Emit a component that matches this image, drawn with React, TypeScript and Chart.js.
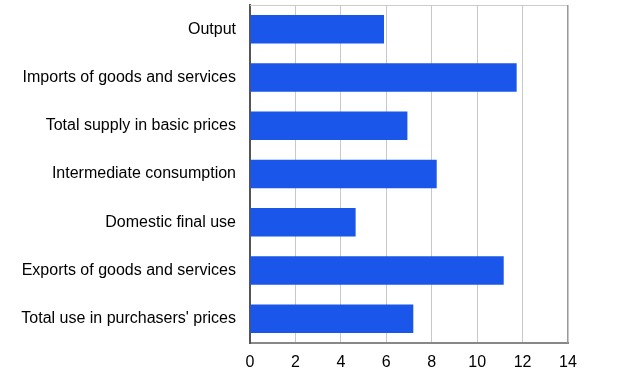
import React, { useEffect, useRef } from "react";
import { Chart, registerables } from "chart.js";

Chart.register(...registerables);

const categories = [
  "Output",
  "Imports of goods and services",
  "Total supply in basic prices",
  "Intermediate consumption",
  "Domestic final use",
  "Exports of goods and services",
  "Total use in purchasers' prices",
];
const values = [5.9, 11.74, 6.93, 8.22, 4.65, 11.17, 7.19];
const xTicks = [0, 2, 4, 6, 8, 10, 12, 14];

const FONT = "'Liberation Sans', Arial, sans-serif";

const topBorder = {
  id: "topBorder",
  afterDraw(chart: any) {
    const { ctx, chartArea } = chart;
    ctx.save();
    ctx.strokeStyle = "#cccccc";
    ctx.lineWidth = 1;
    ctx.beginPath();
    ctx.moveTo(chartArea.left, chartArea.top + 0.5);
    ctx.lineTo(chartArea.right, chartArea.top + 0.5);
    ctx.stroke();
    ctx.strokeStyle = "#999999";
    ctx.beginPath();
    ctx.moveTo(chartArea.right - 0.5, chartArea.top);
    ctx.lineTo(chartArea.right - 0.5, chartArea.bottom);
    ctx.stroke();
    ctx.restore();
  },
};

export default function App() {
  const ref = useRef<HTMLCanvasElement>(null);
  useEffect(() => {
    document.body.style.margin = "0";
    const chart = new Chart(ref.current!, {
      type: "bar",
      data: {
        labels: categories,
        datasets: [
          {
            data: values,
            backgroundColor: "#1b56ea",
            borderWidth: 0,
            categoryPercentage: 1,
            barPercentage: 0.59,
          },
        ],
      },
      options: {
        indexAxis: "y",
        animation: false,
        responsive: false,
        maintainAspectRatio: false,
        layout: { padding: { top: 5, right: 51, left: 0, bottom: 0 } },
        plugins: { legend: { display: false }, tooltip: { enabled: false } },
        scales: {
          x: {
            min: 0,
            max: 14,
            afterBuildTicks: (s: any) => {
              s.ticks = xTicks.map((v) => ({ value: v }));
            },
            grid: { color: "#c8c8c8", drawTicks: false },
            border: { color: "#888888", width: 2 },
            ticks: {
              color: "#000",
              padding: 10,
              font: { family: FONT, size: 16 },
            },
            afterFit: (s: any) => {
              s.height = 30;
              s.paddingLeft = 0;
              s.paddingRight = 0;
            },
          },
          y: {
            grid: { display: false, drawTicks: false },
            border: { color: "#555555", width: 2 },
            ticks: {
              color: "#000",
              padding: 14,
              font: { family: FONT, size: 16 },
            },
            afterFit: (s: any) => {
              s.width = 250;
              s.paddingTop = 0;
              s.paddingBottom = 0;
            },
          },
        },
      },
      plugins: [topBorder],
    });
    return () => chart.destroy();
  }, []);
  return (
    <div style={{ width: 619, height: 373 }}>
      <canvas ref={ref} width={619} height={373} style={{ display: "block" }} />
    </div>
  );
}
